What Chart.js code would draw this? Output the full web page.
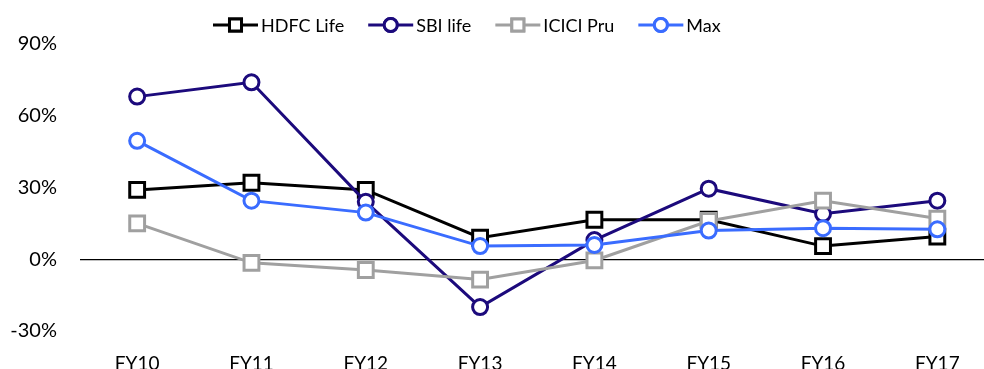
<!DOCTYPE html>
<html>
<head>
<meta charset="utf-8">
<script src="https://cdn.jsdelivr.net/npm/chart.js@4/dist/chart.umd.min.js"></script>
<style>
  html, body { margin: 0; padding: 0; overflow: hidden; background: #fff; }
  canvas { display: block; }
</style>
</head>
<body>
<canvas id="myChart" width="1008" height="380"></canvas>
<script>
const years = ['FY10', 'FY11', 'FY12', 'FY13', 'FY14', 'FY15', 'FY16', 'FY17']
const hdfc = [29, 32, 29, 9, 16.5, 16.5, 5.5, 9.5]
const sbi = [68, 74, 24, -20, 8, 29.5, 19, 24.5]
const icici = [15, -1.5, -4.5, -8.5, -0.5, 16, 24.5, 17]
const max = [49.5, 24.5, 19.5, 5.5, 6, 12, 13, 12.5]
const yTicks = [-30, 0, 30, 60, 90]

const fontName = 'Lato, "Liberation Sans", sans-serif'

// legend drawn by hand: line with marker in the middle, like the original
const lineLegend = {
  id: 'lineLegend',
  afterDraw(chart) {
    const ctx = chart.ctx
    const y = 25
    let x = 213
    ctx.save()
    ctx.font = '18px ' + fontName
    ctx.textBaseline = 'middle'
    chart.data.datasets.forEach((ds) => {
      ctx.strokeStyle = ds.borderColor
      ctx.lineWidth = 3
      ctx.beginPath()
      ctx.moveTo(x, y)
      ctx.lineTo(x + 45, y)
      ctx.stroke()
      ctx.fillStyle = '#fff'
      Chart.helpers.drawPoint(ctx, {
        pointStyle: ds.pointStyle,
        radius: ds.pointStyle === 'rect' ? 8.5 : 6.5,
        rotation: 0,
        borderWidth: 3
      }, x + 22.5, y)
      ctx.fill()
      ctx.stroke()
      ctx.fillStyle = '#000'
      ctx.fillText(ds.label, x + 48, y + 1)
      x += 48 + ctx.measureText(ds.label).width + 24
    })
    ctx.restore()
  }
}

function serie(label, data, color, style, order) {
  return {
    label: label,
    data: data,
    borderColor: color,
    backgroundColor: '#fff',
    borderWidth: 3,
    pointStyle: style,
    pointRadius: style === 'rect' ? 10.5 : 7.5,
    pointBorderWidth: 3,
    pointBackgroundColor: '#fff',
    pointBorderColor: color,
    tension: 0,
    order: order
  }
}

const config = {
  type: 'line',
  data: {
    labels: years,
    datasets: [
      serie('HDFC Life', hdfc, '#000000', 'rect', 4),
      serie('SBI life', sbi, '#1c0a7c', 'circle', 3),
      serie('ICICI Pru', icici, '#a0a0a0', 'rect', 2),
      serie('Max', max, '#3a6cff', 'circle', 1)
    ]
  },
  options: {
    responsive: false,
    animation: false,
    layout: { padding: { top: 44, left: 0, right: 0, bottom: 0 } },
    plugins: {
      legend: { display: false },
      tooltip: { enabled: false }
    },
    scales: {
      x: {
        offset: true,
        grid: { display: false },
        border: { display: false },
        ticks: { color: '#000', font: { family: fontName, size: 19 }, padding: 13 },
        afterFit: (s) => {
          s.height = 49
          s.paddingLeft = 0
          s.paddingRight = 0
        }
      },
      y: {
        min: yTicks[0],
        max: yTicks[yTicks.length - 1],
        afterBuildTicks: (s) => { s.ticks = yTicks.map((v) => ({ value: v })) },
        grid: {
          drawTicks: false,
          color: (c) => c.tick && c.tick.value === 0 ? '#000' : 'rgba(0,0,0,0)',
          lineWidth: 1.3
        },
        border: { display: false },
        ticks: {
          color: '#000',
          font: { family: fontName, size: 20 },
          padding: 23,
          callback: (v) => v + '%'
        },
        afterFit: (s) => { s.width = 80 }
      }
    }
  },
  plugins: [lineLegend]
}

const myChart = new Chart(document.getElementById('myChart'), config)
</script>
</body>
</html>
